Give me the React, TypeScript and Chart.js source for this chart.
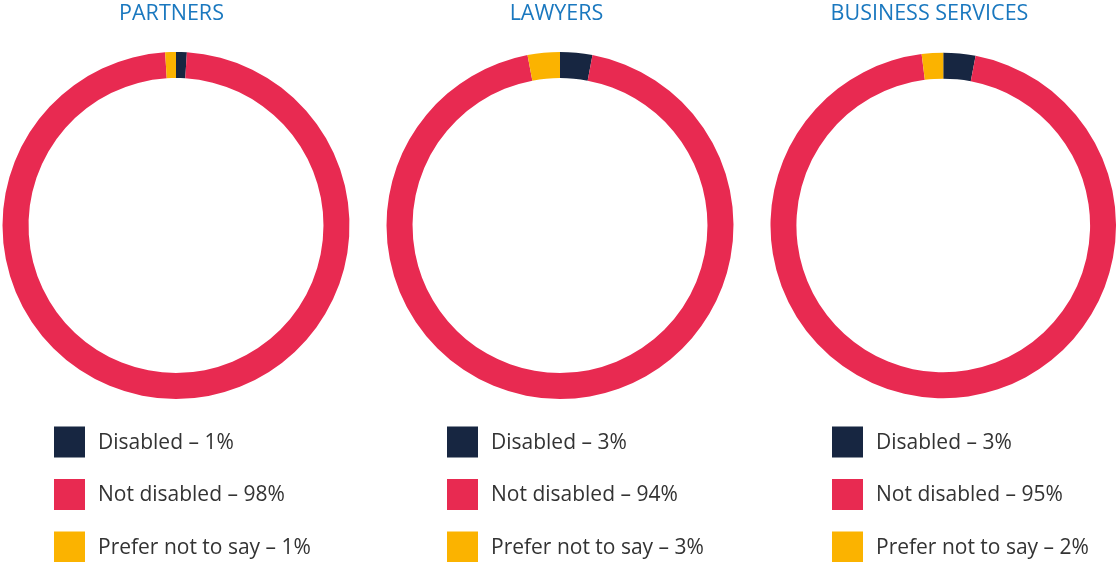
import React, { useEffect, useRef } from "react";
import { Chart, registerables } from "chart.js";

Chart.register(...registerables);

const categories = ["Disabled", "Not disabled", "Prefer not to say"];
const partnersValues = [1, 98, 1];
const lawyersValues = [3, 94, 3];
const businessValues = [3, 95, 2];
const groupTitles = ["PARTNERS", "LAWYERS", "BUSINESS SERVICES"];
const seriesColors = ["#172641", "#e82a51", "#fbb300"];

const W = 1116;
const H = 562;

const layouts = [
  { cx: 176, titleX: 171.5, legendX: 54 },
  { cx: 560, titleX: 556.5, legendX: 447 },
  { cx: 944, titleX: 929.5, legendX: 832 },
];

const decorPlugin = {
  id: "decor",
  afterDraw(chart: any) {
    const o = chart.options.plugins.decor;
    if (!o) return;
    const ctx = chart.ctx;
    ctx.save();
    ctx.fillStyle = "#1a78bf";
    ctx.font = "21.5px 'Open Sans'";
    ctx.textAlign = "center";
    ctx.textBaseline = "middle";
    ctx.fillText(o.title, o.titleX, 14);
    const ds = chart.data.datasets[0];
    ctx.font = "21px 'Open Sans'";
    ctx.textAlign = "left";
    chart.data.labels.forEach((lab: string, i: number) => {
      const yc = 442 + i * 52.5;
      ctx.fillStyle = ds.backgroundColor[i];
      ctx.fillRect(o.legendX, yc - 15.5, 31, 31);
      ctx.fillStyle = "#333333";
      ctx.fillText(`${lab} – ${ds.data[i]}%`, o.legendX + 44, yc + 1);
    });
    ctx.restore();
  },
};

function Donut({ idx, values }: { idx: number; values: number[] }) {
  const ref = useRef<HTMLCanvasElement>(null);
  useEffect(() => {
    if (!ref.current) return;
    const L = layouts[idx];
    const r = 173.5;
    const chart = new Chart(ref.current, {
      type: "doughnut",
      data: {
        labels: categories,
        datasets: [
          {
            data: values,
            backgroundColor: seriesColors,
            borderWidth: 0,
          },
        ],
      },
      options: {
        responsive: false,
        animation: false,
        cutout: "85%",
        layout: {
          padding: {
            top: 52,
            bottom: H - 399,
            left: L.cx - r,
            right: W - (L.cx + r),
          },
        },
        plugins: {
          legend: { display: false },
          title: { display: false },
          tooltip: { enabled: false },
          decor: { title: groupTitles[idx], titleX: L.titleX, legendX: L.legendX },
        } as any,
        events: [],
      },
      plugins: [decorPlugin],
    });
    return () => chart.destroy();
  }, [idx, values]);
  return (
    <canvas
      ref={ref}
      width={W}
      height={H}
      style={{ position: "absolute", left: 0, top: 0, width: W, height: H }}
    />
  );
}

export default function App() {
  return (
    <div style={{ position: "absolute", left: 0, top: 0, width: W, height: H, background: "#fff" }}>
      <Donut idx={0} values={partnersValues} />
      <Donut idx={1} values={lawyersValues} />
      <Donut idx={2} values={businessValues} />
    </div>
  );
}
